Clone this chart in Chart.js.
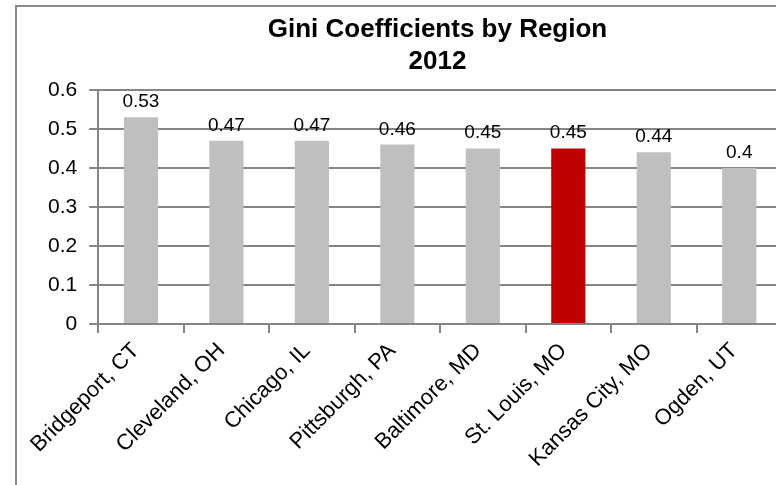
<!DOCTYPE html>
<html>
<head>
<meta charset="utf-8">
<script src="https://cdn.jsdelivr.net/npm/chart.js@4.4.0/dist/chart.umd.min.js"></script>
<style>
    html, body { margin: 0; padding: 0; background: #fff; overflow: hidden; }
    #marco {
        position: absolute; left: 15px; top: 5px;
        width: 848px; height: 540px;
        border: 2px solid #8a8a8a;
        background: #fff;
    }
    #grafica { display: block; }
</style>
</head>
<body>
<div id="marco">
    <canvas id="grafica" width="848" height="540"></canvas>
</div>
<script>
// Gráfica de coeficientes de Gini por región, 2012.
var regiones = ['Bridgeport, CT', 'Cleveland, OH', 'Chicago, IL', 'Pittsburgh, PA',
    'Baltimore, MD', 'St. Louis, MO', 'Kansas City, MO', 'Ogden, UT'];
var valoresGini = [0.53, 0.47, 0.47, 0.46, 0.45, 0.45, 0.44, 0.4];
var etiquetasGini = ['0.53', '0.47', '0.47', '0.46', '0.45', '0.45', '0.44', '0.4'];
var regionResaltada = 'St. Louis, MO';

var grisBarra = '#bfbfbf';
var rojoBarra = '#c00000';
var grisLinea = '#858585';
var fuente = '"Liberation Sans", Arial, sans-serif';

var colores = regiones.map(function (r) {
    return r === regionResaltada ? rojoBarra : grisBarra;
});

// Dibuja el valor encima de cada barra.
var etiquetasPlugin = {
    id: 'etiquetas',
    afterDatasetsDraw: function (chart) {
        var ctx = chart.ctx;
        var meta = chart.getDatasetMeta(0);
        ctx.save();
        ctx.font = '19px ' + fuente;
        ctx.fillStyle = '#000';
        ctx.textAlign = 'center';
        ctx.textBaseline = 'alphabetic';
        meta.data.forEach(function (bar, i) {
            ctx.fillText(etiquetasGini[i], bar.x, bar.y - 10);
        });
        ctx.restore();
    }
};

var context = document.getElementById('grafica').getContext('2d');
var chart = new Chart(context, {
    type: 'bar',
    data: {
        labels: regiones,
        datasets: [{
            data: valoresGini,
            backgroundColor: colores,
            borderWidth: 0,
            barPercentage: 0.4,
            categoryPercentage: 1
        }]
    },
    options: {
        responsive: false,
        animation: false,
        layout: { padding: { left: 19, right: 26, top: 0, bottom: 0 } },
        plugins: {
            legend: { display: false },
            tooltip: { enabled: false },
            title: {
                display: true,
                text: ['Gini Coefficients by Region', '2012'],
                color: '#000',
                font: { family: fuente, size: 26, weight: 'bold', lineHeight: 1.23 },
                padding: { top: 7, bottom: 12 }
            }
        },
        scales: {
            x: {
                offset: true,
                grid: {
                    display: true,
                    offset: true,
                    drawOnChartArea: false,
                    drawTicks: true,
                    tickLength: 9,
                    color: grisLinea,
                    lineWidth: 2
                },
                border: { display: true, color: grisLinea, width: 2 },
                ticks: {
                    color: '#000',
                    font: { family: fuente, size: 22 },
                    minRotation: 45,
                    maxRotation: 45,
                    autoSkip: false,
                    padding: 5,
                    labelOffset: -5
                },
                afterFit: function (scale) {
                    scale.height = 223;
                    scale.paddingLeft = 0;
                    scale.paddingRight = 83;
                }
            },
            y: {
                min: 0,
                max: 0.6,
                grid: {
                    color: grisLinea,
                    lineWidth: 2,
                    tickLength: 9
                },
                border: { display: true, color: grisLinea, width: 2 },
                ticks: {
                    stepSize: 0.1,
                    color: '#000',
                    font: { family: fuente, size: 21 },
                    padding: 12,
                    callback: function (v) {
                        return Math.round(v * 10) / 10;
                    }
                }
            }
        }
    },
    plugins: [etiquetasPlugin]
});
</script>
</body>
</html>
